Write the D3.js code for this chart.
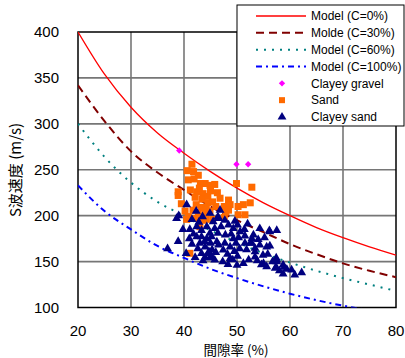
<!doctype html>
<html>
<head>
    <meta charset="utf-8"/>
    <style>
        body { margin: 0; background: #fff; }
        svg { display: block; }
        text { font-family: "Liberation Sans", Arial, sans-serif; fill: #000; }
        .jp { font-family: "Noto Sans CJK JP", sans-serif; }
    </style>
    <script src="https://d3js.org/d3.v7.min.js"></script>
</head>
<body>
<svg width="405" height="358"></svg>

<script>

    // model curves
    var modelX = [20, 25, 30, 35, 40, 45, 50, 55, 60, 65, 70, 75, 80];
    var modelC0 = [400, 354, 318, 290, 268, 248, 230, 214, 200, 187, 176, 166, 157];
    var modelC30 = [342, 303, 270, 247, 228, 210, 195, 182, 169, 158, 148, 140, 133];
    var modelC60 = [300, 264, 236, 215, 200, 184, 171, 159, 149, 140, 132, 125, 118];
    var modelC100 = [233, 205, 185, 167, 154, 142, 132, 123, 115, 108, 102, 97, 92];

    var xTicks = [20, 30, 40, 50, 60, 70, 80];
    var yTicks = [100, 150, 200, 250, 300, 350, 400];

    // measured points: [void ratio %, Vs]
    var clayeyGravel = [[39.1, 271], [49.9, 256], [52.1, 256]];

    var sand = [
        [41.5, 256], [40.6, 249], [41.8, 248], [42.7, 244], [40.8, 239], [41.9, 240], [44.0, 235], [43.1, 235],
        [45.8, 234], [44.9, 233], [38.9, 226], [38.9, 222], [41.2, 228], [42.4, 226], [43.6, 224], [42.1, 220],
        [43.4, 218], [44.5, 221], [45.4, 215], [46.0, 210], [42.3, 212], [43.3, 209], [44.2, 209], [41.7, 206],
        [42.7, 203], [44.0, 203], [44.9, 205], [43.2, 198], [44.1, 196], [45.4, 196], [40.2, 205], [40.8, 199],
        [42.0, 197], [43.6, 195], [40.5, 196], [43.0, 188], [47.6, 210], [47.9, 204], [47.6, 198], [49.9, 235],
        [52.8, 231], [48.4, 217], [48.7, 212], [51.2, 212], [52.5, 214], [50.2, 210], [48.4, 206], [50.2, 201],
        [51.5, 201], [41.1, 159], [45.0, 227], [46.3, 225], [39.5, 213], [44.5, 214], [46.8, 219], [42.9, 230]
    ];

    var clayeySand = [
        [36.9, 164], [38.9, 172], [38.6, 197], [39.0, 200], [40.5, 212], [42.3, 205], [40.4, 159], [41.5, 169],
        [39.8, 185], [42.1, 154.5], [43.3, 159], [44.0, 154.5], [44.6, 159], [45.2, 156], [45.8, 151.7], [44.9, 154],
        [43.6, 151], [41.5, 196], [41.1, 185], [42.4, 188], [43.3, 184], [44.3, 188], [45.5, 193.5], [45.8, 186],
        [46.8, 206], [46.5, 197], [43.3, 177], [44.3, 175], [45.2, 177], [46.2, 171.6], [42.4, 177], [41.8, 180],
        [43.0, 170], [44.0, 166], [46.5, 168], [47.4, 162.6], [45.3, 163], [42.6, 164], [44.9, 202.6], [43.5, 199],
        [42.8, 193], [44.9, 181], [46.4, 181], [47.0, 188], [41.0, 175], [43.9, 172], [45.0, 170], [46.0, 160],
        [44.7, 161], [47.7, 195], [48.4, 190], [49.3, 186], [50.1, 190], [50.6, 182.5], [51.4, 185], [47.8, 179],
        [48.9, 180], [49.3, 175], [50.3, 176], [51.5, 178], [48.7, 166], [47.7, 170], [49.8, 170], [51.5, 170],
        [52.5, 170], [48.2, 158], [49.5, 161], [50.5, 164], [51.8, 163], [48.7, 153.5], [49.2, 152], [50.1, 156],
        [51.2, 148], [52.2, 152], [47.3, 150], [48.3, 147], [50.0, 146], [52.8, 175], [52.0, 191], [49.6, 194],
        [46.4, 199], [53.4, 155], [55.0, 148], [55.6, 144.5], [57.5, 150], [57.2, 142.7], [53.4, 164.5], [54.3, 186],
        [56.2, 182.5], [53.1, 179], [56.1, 183.6], [52.8, 170], [54.3, 168], [55.6, 166], [56.2, 167], [53.4, 160.7],
        [54.9, 157], [57.5, 151.7], [54.6, 146.6], [57.4, 154], [56.7, 150], [57.4, 144], [53.8, 151], [55.8, 158],
        [54.0, 174], [55.2, 176], [58.7, 146.3], [59.4, 141.6], [58.7, 136.5], [60.9, 135.5], [62.2, 138], [58.9, 143.8],
        [60.3, 141], [58.0, 140], [57.5, 184]
    ];

    var svg = d3.select("svg");

    var x = d3.scaleLinear().domain([20, 80]).range([78, 396]);
    var y = d3.scaleLinear().domain([100, 400]).range([307.5, 32]);

    // grid
    svg.append("g").selectAll("line")
        .data(xTicks.slice(1, -1))
        .join("line")
        .attr("x1", d => x(d)).attr("x2", d => x(d))
        .attr("y1", y(100)).attr("y2", y(400))
        .attr("stroke", "#767676").attr("stroke-width", 1.6);
    svg.append("g").selectAll("line")
        .data(yTicks.slice(1, -1))
        .join("line")
        .attr("x1", x(20)).attr("x2", x(80))
        .attr("y1", d => y(d)).attr("y2", d => y(d))
        .attr("stroke", "#767676").attr("stroke-width", 1.6);

    svg.append("rect")
        .attr("x", x(20)).attr("y", y(400))
        .attr("width", x(80) - x(20)).attr("height", y(100) - y(400))
        .attr("fill", "none").attr("stroke", "#000").attr("stroke-width", 1.5);

    // tick labels
    svg.append("g").selectAll("text")
        .data(yTicks)
        .join("text")
        .attr("x", 59).attr("y", d => y(d))
        .attr("dy", "0.36em")
        .attr("text-anchor", "end")
        .style("font-size", "15px")
        .text(d => d);
    svg.append("g").selectAll("text")
        .data(xTicks)
        .join("text")
        .attr("x", d => x(d)).attr("y", 336)
        .attr("text-anchor", "middle")
        .style("font-size", "15px")
        .text(d => d);

    svg.append("text")
        .attr("class", "jp")
        .attr("transform", "translate(21,170) rotate(-90)")
        .attr("text-anchor", "middle")
        .style("font-size", "15px")
        .text("S波速度 (m/s)");
    svg.append("text")
        .attr("class", "jp")
        .attr("x", 236).attr("y", 355)
        .attr("text-anchor", "middle")
        .style("font-size", "13.5px")
        .text("間隙率 (%)");

    // model lines
    svg.append("clipPath").attr("id", "plot")
        .append("rect")
        .attr("x", x(20)).attr("y", y(400))
        .attr("width", x(80) - x(20)).attr("height", y(100) - y(400));

    var models = [
        {name: "Model (C=0%)", v: modelC0, color: "#ff0000", dash: null, w: 1.3},
        {name: "Molde (C=30%)", v: modelC30, color: "#800000", dash: "8,5", w: 2},
        {name: "Model (C=60%)", v: modelC60, color: "#008080", dash: "2,6", w: 2},
        {name: "Model (C=100%)", v: modelC100, color: "#0000ff", dash: "6,4,2,4", w: 2}
    ];

    var line = d3.line()
        .x(d => x(d[0]))
        .y(d => y(d[1]))
        .curve(d3.curveMonotoneX);

    svg.append("g").attr("clip-path", "url(#plot)")
        .selectAll("path")
        .data(models)
        .join("path")
        .attr("d", m => line(modelX.map((v, i) => [v, m.v[i]])))
        .attr("fill", "none")
        .attr("stroke", m => m.color)
        .attr("stroke-width", m => m.w)
        .attr("stroke-dasharray", m => m.dash);

    // markers
    var diamond = d3.symbol().type(d3.symbolSquare).size(20);
    var triangle = d3.symbol().type(d3.symbolTriangle).size(34);

    svg.append("g").selectAll("path")
        .data(clayeyGravel)
        .join("path")
        .attr("transform", d => "translate(" + x(d[0]) + "," + y(d[1]) + ") rotate(45)")
        .attr("d", diamond)
        .attr("fill", "#ff00ff");

    svg.append("g").selectAll("rect")
        .data(sand)
        .join("rect")
        .attr("x", d => x(d[0]) - 3.5).attr("y", d => y(d[1]) - 3.5)
        .attr("width", 7).attr("height", 7)
        .attr("fill", "#ff6a00");

    svg.append("g").selectAll("path")
        .data(clayeySand)
        .join("path")
        .attr("transform", d => "translate(" + x(d[0]) + "," + y(d[1]) + ")")
        .attr("d", triangle)
        .attr("fill", "#000080");

    // legend
    var legend = svg.append("g");
    legend.append("rect")
        .attr("x", 237).attr("y", 5).attr("width", 167).attr("height", 121)
        .attr("fill", "#fff").attr("stroke", "#000").attr("stroke-width", 1);

    var rowY = d3.scaleLinear().domain([0, 6]).range([16, 117]);

    legend.selectAll("line")
        .data(models)
        .join("line")
        .attr("x1", 256).attr("x2", 306)
        .attr("y1", (d, i) => rowY(i)).attr("y2", (d, i) => rowY(i))
        .attr("stroke", m => m.color)
        .attr("stroke-width", m => m.w)
        .attr("stroke-dasharray", m => m.dash);

    legend.append("path")
        .attr("transform", "translate(282," + rowY(4) + ") rotate(45)")
        .attr("d", diamond).attr("fill", "#ff00ff");
    legend.append("rect")
        .attr("x", 279).attr("y", rowY(5) - 3).attr("width", 6).attr("height", 6)
        .attr("fill", "#ff6a00");
    legend.append("path")
        .attr("transform", "translate(282," + rowY(6) + ")")
        .attr("d", triangle).attr("fill", "#000080");

    legend.selectAll("text")
        .data(models.map(m => m.name).concat(["Clayey gravel", "Sand", "Clayey sand"]))
        .join("text")
        .attr("x", 311).attr("y", (d, i) => rowY(i))
        .attr("dy", "0.36em")
        .style("font-size", "12px")
        .text(d => d);

</script>
</body>
</html>
